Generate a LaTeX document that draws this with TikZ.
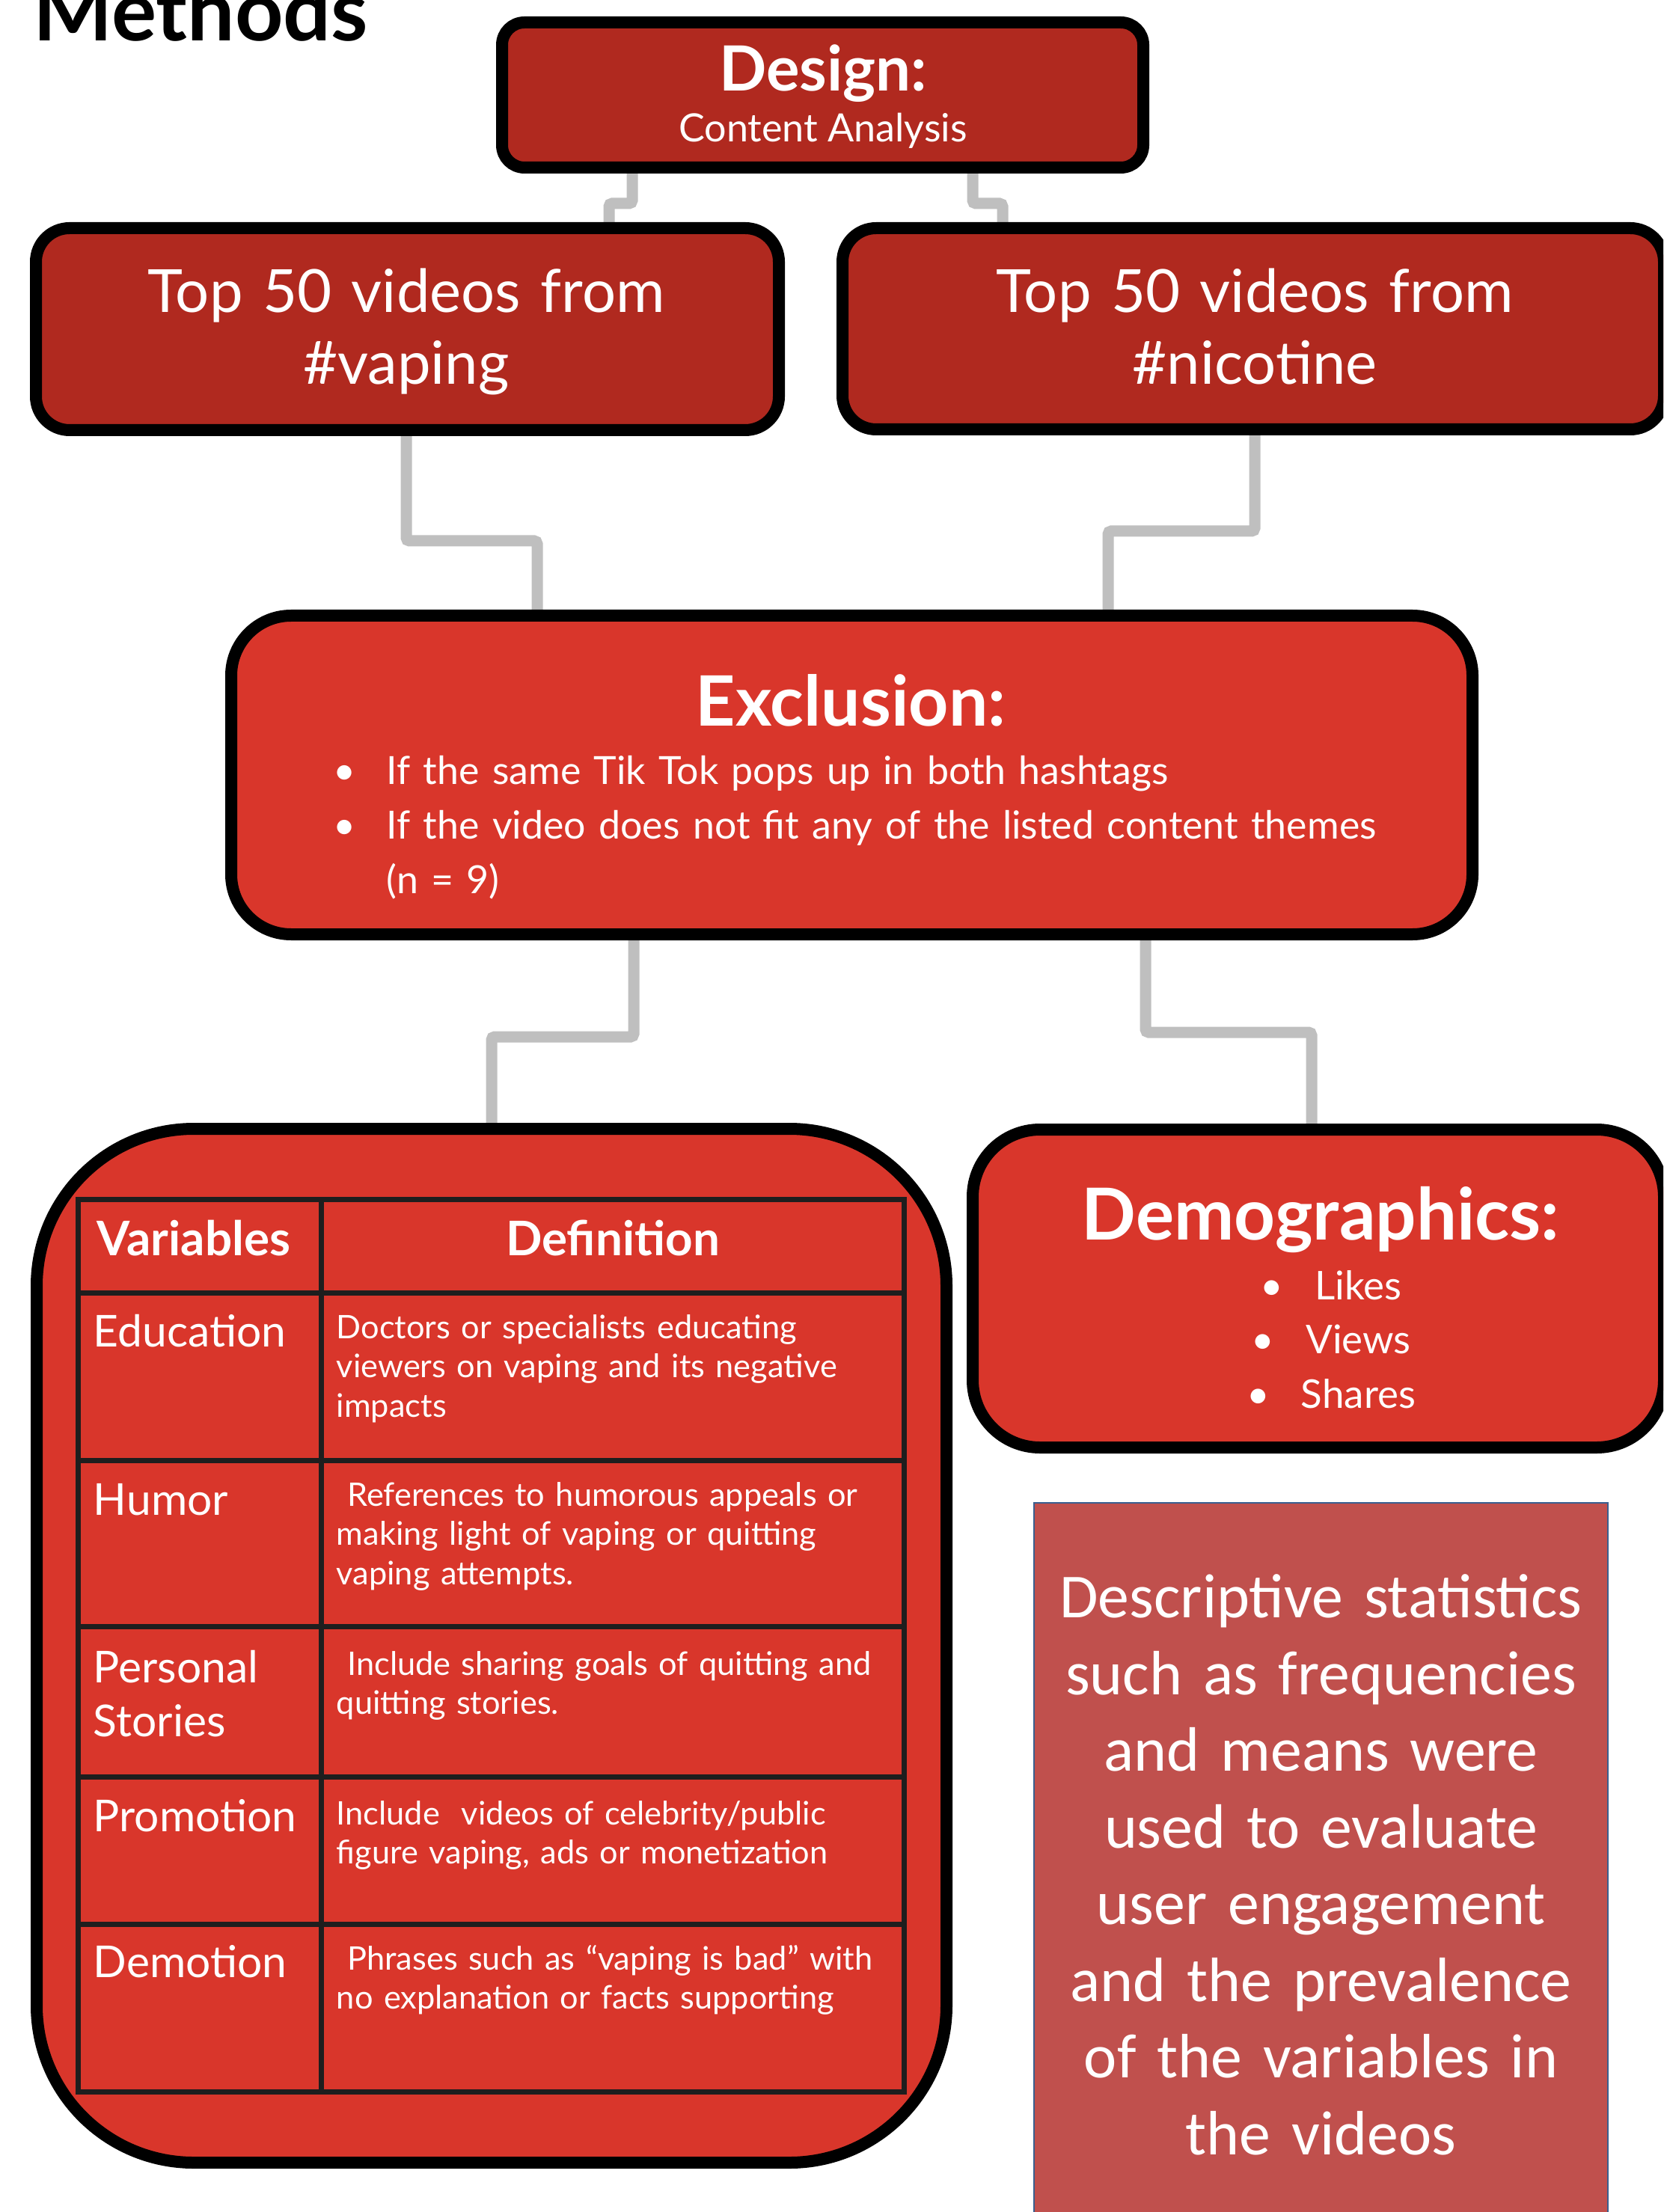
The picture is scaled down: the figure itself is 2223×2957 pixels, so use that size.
\documentclass[tikz,border=0pt]{standalone}
\usepackage{fontspec}
\setmainfont{Lato}
\newfontfamily\calibri{Carlito}
\usetikzlibrary{positioning,calc,backgrounds,shadows}

\definecolor{darkred}{HTML}{B0291F}
\definecolor{brightred}{HTML}{D9362B}
\definecolor{linkgray}{HTML}{BFBFBF}
\definecolor{statred}{HTML}{C0504D}
\definecolor{statblue}{HTML}{3A5F8F}
\definecolor{gridline}{HTML}{1E1E1E}
\newcommand{\pxu}{0.24pt}

\tikzset{
  box/.style={draw=black, line width=16*\pxu, rounded corners=#1, inner sep=0pt,
    drop shadow={shadow xshift=0pt, shadow yshift=-1.6pt, fill=black, opacity=0.15}},
  box/.default=8pt,
  wtext/.style={text=white, inner sep=0pt},
  toptext/.style={wtext, font=\fontsize{19.1pt}{23pt}\selectfont, text width=900*\pxu, align=center},
  headtext/.style={wtext, font=\bfseries\fontsize{22.3pt}{26pt}\selectfont},
  thead/.style={wtext, font=\bfseries\fontsize{15.3pt}{18pt}\selectfont},
  varname/.style={wtext, font=\fontsize{14.1pt}{17.3pt}\selectfont, text width=300*\pxu, align=left},
  vardef/.style={wtext, font=\fontsize{10.4pt}{12.7pt}\selectfont, text width=780*\pxu, align=left},
  link/.style={draw=linkgray, line width=15*\pxu, rounded corners=1pt},
  grid/.style={draw=gridline, line width=7*\pxu},
  statbox/.style={draw=statblue, line width=2*\pxu, fill=statred, text=white, inner sep=0pt,
    font=\calibri\fontsize{20.1pt}{24.6pt}\selectfont, align=center, text width=760*\pxu}
}

\begin{document}
\begin{tikzpicture}[x=0.24pt, y=-0.24pt]
  \useasboundingbox (0,0) rectangle (2223,2957);
  \clip (0,0) rectangle (2223,2957);

  % title
  \node[anchor=base west, inner sep=0pt, font=\bfseries\fontsize{27pt}{30pt}\selectfont] (title) at (44,55) {Methods};

  % design
  \node[box=7.2pt, fill=darkred, minimum width=857*\pxu, minimum height=194*\pxu] (design) at (1099.5,127) {};
  \node[wtext, anchor=base, font=\bfseries\fontsize{20pt}{23pt}\selectfont] (designT) at (1100,122) {Design:};
  \node[wtext, anchor=base, font=\fontsize{12.5pt}{15pt}\selectfont] (designS) at (1100,190) {Content Analysis};

  % hashtag samples
  \node[box=10.8pt, fill=darkred, minimum width=993*\pxu, minimum height=270*\pxu] (vaping) at (544.5,440) {};
  \node[toptext, anchor=base] (vapingT) at (543,418) {Top 50 videos from\\\#vaping};
  \node[box=10.8pt, fill=darkred, minimum width=1098*\pxu, minimum height=269*\pxu] (nicotine) at (1675,439.5) {};
  \node[toptext, anchor=base] (nicotineT) at (1677,418) {Top 50 videos from\\\#nicotine};

  % exclusion
  \node[box=19.2pt, fill=brightred, minimum width=1659*\pxu, minimum height=426*\pxu] (excl) at (1138.5,1036) {};
  \node[headtext, anchor=base] (exclT) at (1137,970) {Exclusion:};
  \node[wtext, anchor=base west, text width=1500*\pxu, align=left,
        font=\fontsize{12.45pt}{17.5pt}\selectfont] (exclL) at (445,1049) {%
    \hangindent=17pt\hangafter=1\makebox[17pt][l]{\textbullet}If the same Tik Tok pops up in both hashtags\par
    \hangindent=17pt\hangafter=1\makebox[17pt][l]{\textbullet}If the video does not fit any of the listed content themes\newline (n = 9)\par};

  % variables table
  \node[box=50.4pt, fill=brightred, minimum width=1216*\pxu, minimum height=1382*\pxu] (vartab) at (657,2200) {};
  \draw[grid] (104.5,1603) rectangle (1208.5,2796);
  \foreach \y in {1728,1952,2174,2375,2572}
    \draw[grid] (104.5,\y) -- (1208.5,\y);
  \draw[grid] (429,1603) -- (429,2796);
  \node[thead, anchor=base west] (hvar) at (129,1678) {Variables};
  \node[thead, anchor=base] (hdef) at (819,1678) {Definition};
  \node[varname, anchor=base west] (vEdu) at (124,1800) {Education};
  \node[vardef, anchor=base west] (dEdu) at (449,1789) {Doctors or specialists educating\\viewers on vaping and its negative\\impacts};
  \node[varname, anchor=base west] (vHum) at (124,2025) {Humor};
  \node[vardef, anchor=base west] (dHum) at (449,2013) {\ References to humorous appeals or\\making light of vaping or quitting\\vaping attempts.};
  \node[varname, anchor=base west] (vPer) at (124,2249) {Personal\\Stories};
  \node[vardef, anchor=base west] (dPer) at (449,2239) {\ Include sharing goals of quitting and\\quitting stories.};
  \node[varname, anchor=base west] (vPro) at (124,2448) {Promotion};
  \node[vardef, anchor=base west] (dPro) at (449,2439) {Include~ videos of celebrity/public\\figure vaping, ads or monetization};
  \node[varname, anchor=base west] (vDem) at (124,2643) {Demotion};
  \node[vardef, anchor=base west] (dDem) at (449,2633) {\ Phrases such as “vaping is bad” with\\no explanation or facts supporting};

  % demographics
  \node[box=21.6pt, fill=brightred, minimum width=924*\pxu, minimum height=425*\pxu] (demo) at (1762,1722.5) {};
  \node[headtext, anchor=base, font=\bfseries\fontsize{23pt}{26pt}\selectfont] (demoT) at (1765,1657) {Demographics:};
  \node[wtext, anchor=base, text width=600*\pxu, align=center,
        font=\fontsize{12.7pt}{17.4pt}\selectfont] (demoL) at (1779,1737) {%
    \makebox[17.5pt][l]{\textbullet}Likes\\\makebox[17.5pt][l]{\textbullet}Views\\\makebox[17.5pt][l]{\textbullet}Shares};

  % analysis
  \node[statbox, minimum width=767*\pxu, minimum height=968*\pxu] (stats) at (1765.5,2493) {Descriptive statistics\\such as frequencies\\and means were\\used to evaluate\\user engagement\\and the prevalence\\of the variables in\\the videos};

  % connectors
  \begin{scope}[on background layer]
    \draw[link] ($(design.south)+(-254.5,0)$) -- ++(0,40) -| ($(vaping.north)+(269.5,0)$);
    \draw[link] ($(design.south)+(200.5,0)$) -- ++(0,40) -| ($(nicotine.north)+(-335,0)$);
    \draw[link] ($(vaping.south)+(-1.5,0)$) -- ++(0,140) -| ($(excl.north)+(-420.5,0)$);
    \draw[link] ($(nicotine.south)+(2,0)$) -- ++(0,128) -| ($(excl.north)+(342.5,0)$);
    \draw[link] ($(excl.south)+(-291.5,0)$) -- ++(0,129) -| (vartab.north);
    \draw[link] ($(excl.south)+(392.5,0)$) -- ++(0,123) -| ($(demo.north)+(-9,0)$);
  \end{scope}
\end{tikzpicture}
\end{document}
